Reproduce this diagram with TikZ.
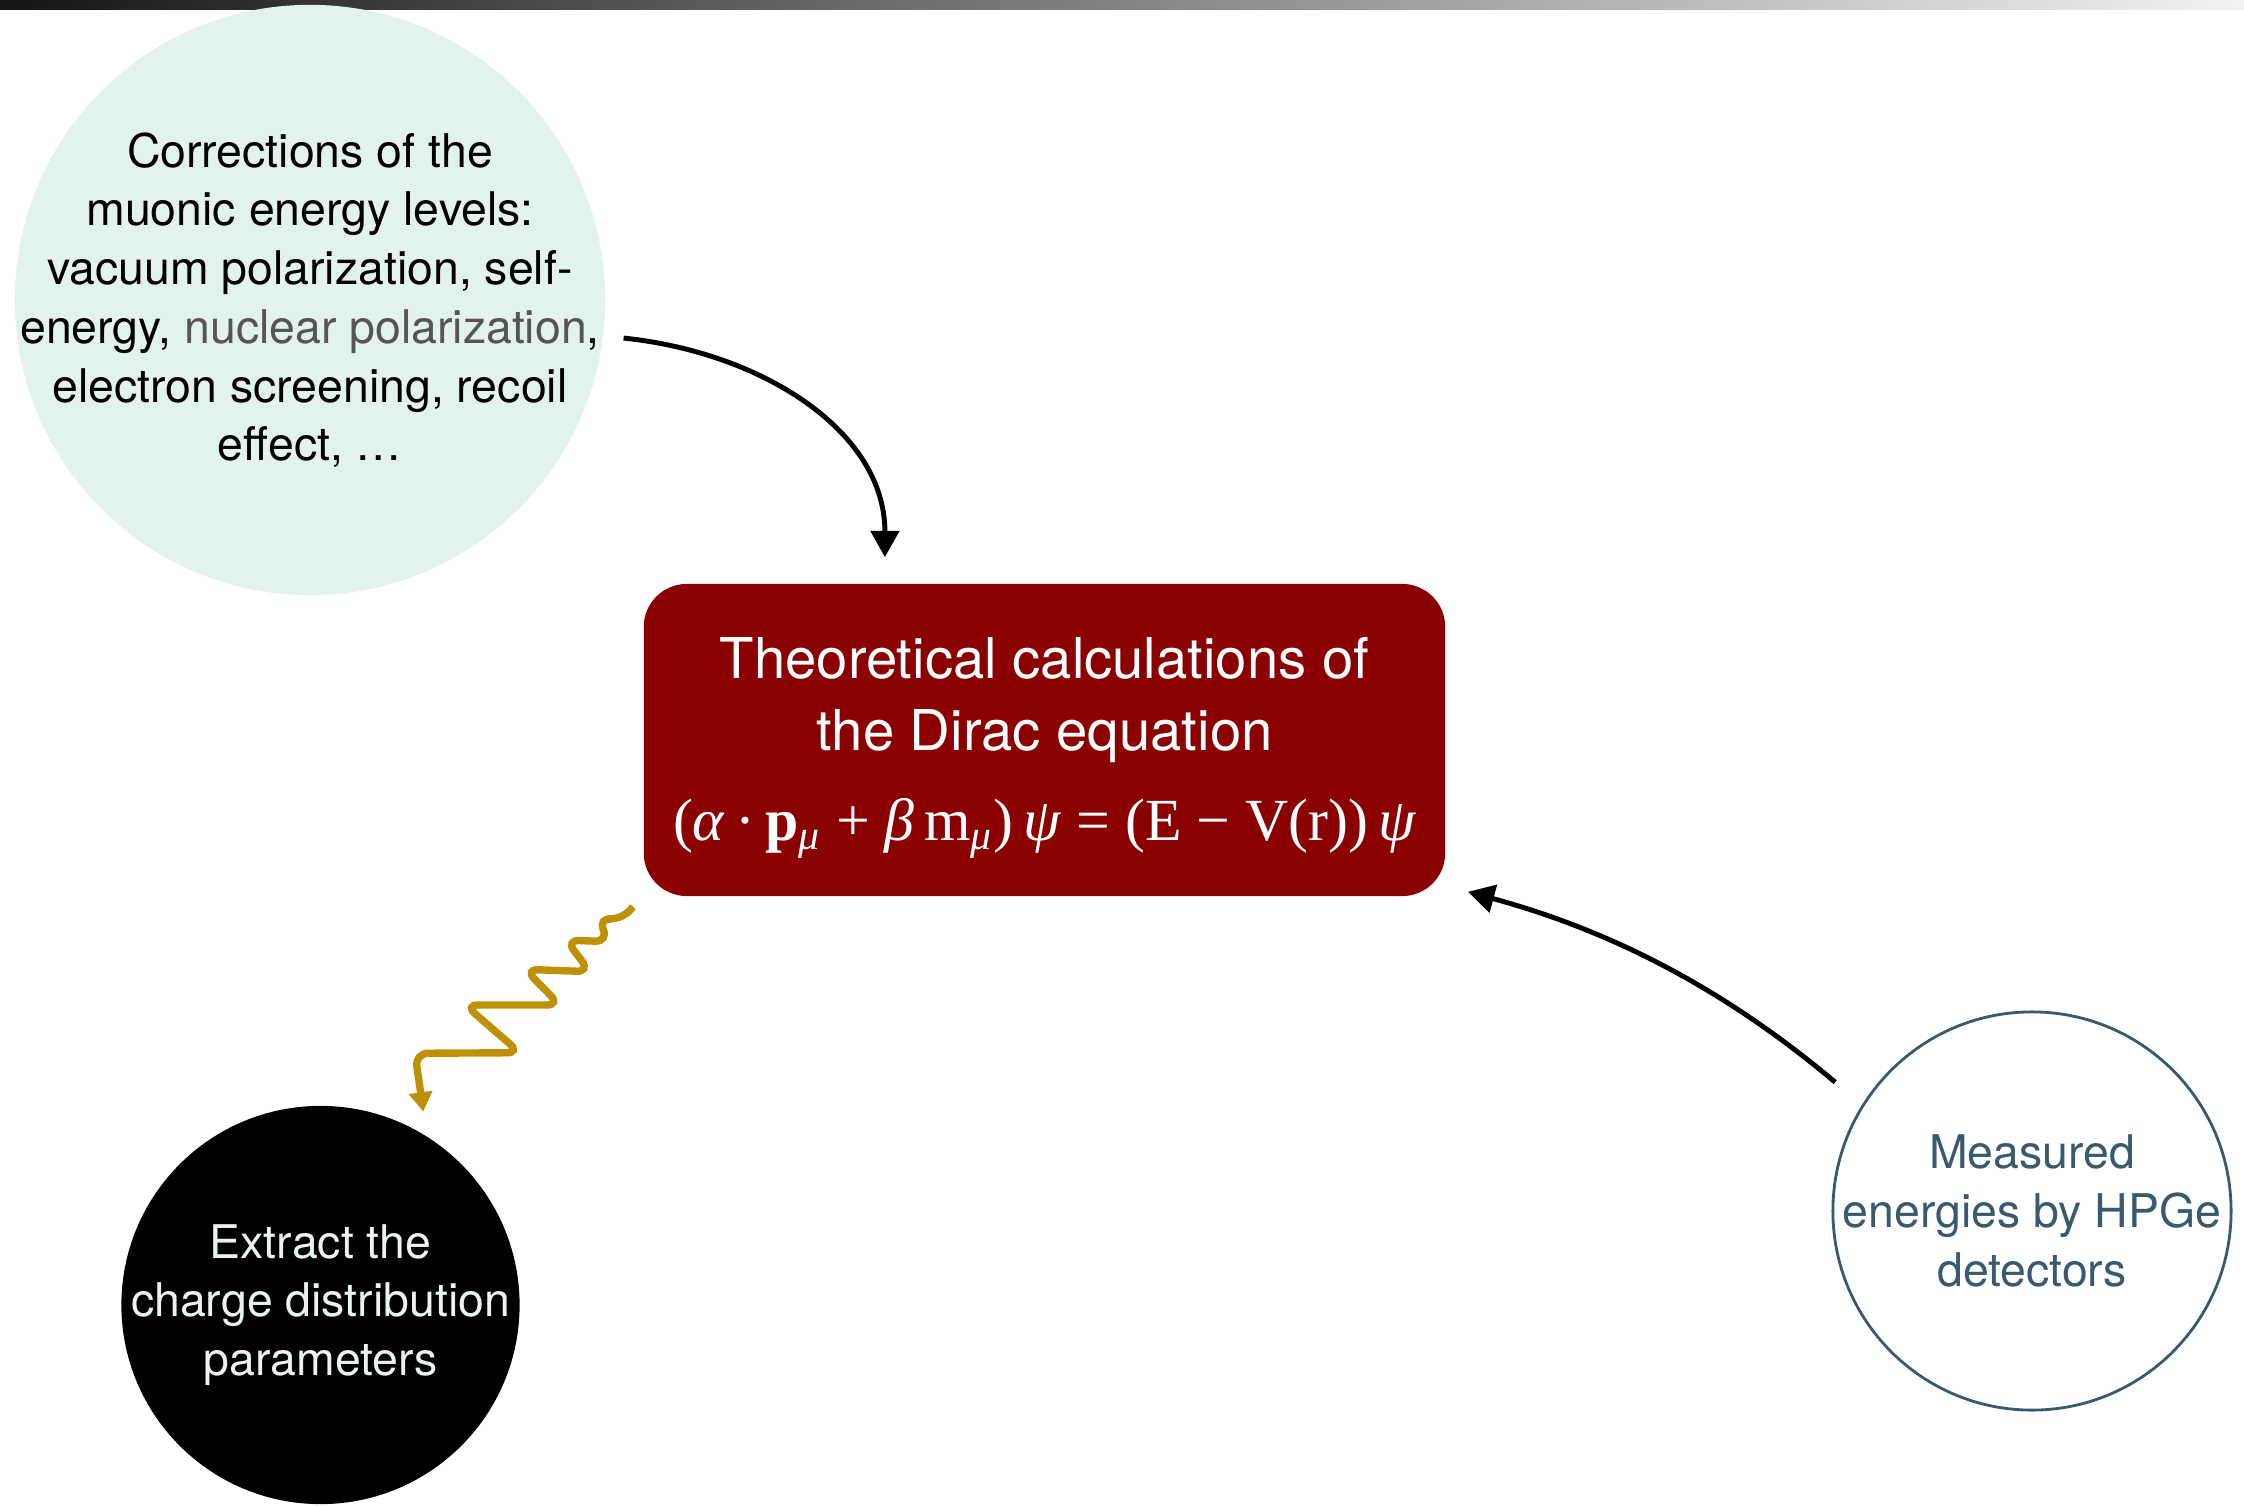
\documentclass[tikz,border=0pt]{standalone}
\usepackage{fontspec}
\setmainfont{TeX Gyre Heros}
\newfontfamily\eqfont{Liberation Serif}
\usetikzlibrary{arrows.meta,calc}
\definecolor{mint}{RGB}{225,243,235}
\definecolor{darkred}{RGB}{139,0,0}
\definecolor{slate}{RGB}{55,90,110}
\definecolor{gold}{RGB}{190,145,5}
\definecolor{midgray}{RGB}{85,85,85}
\definecolor{palemint}{RGB}{232,245,238}
\begin{document}
\begin{tikzpicture}[x=0.01cm,y=-0.01cm,
  disc/.style={circle,inner sep=0pt},
  txt/.style={align=center,inner sep=0pt,font=\fontsize{13.2}{16.7}\selectfont},
  arr/.style={line width=1.4pt,-{Triangle[length=7.5pt,width=8pt]}},
  wavy/.style={line width=2.1pt,color=gold,rounded corners=0.13cm,-{Triangle[length=5.5pt,width=6.5pt]}}]
\useasboundingbox (0,0) rectangle (2244,1506);
\shade[left color=black!92,right color=black!5] (0,0) rectangle (2244,9);
\node[disc,fill=mint,minimum size=5.9cm] (corr) at (310,300) {};
\node[txt] (corrtxt) at (corr.center)
  {Corrections of the\\muonic energy levels:\\vacuum polarization, self-\\energy, \textcolor{midgray}{nuclear polarization},\\electron screening, recoil\\effect, \dots};
\node[rectangle,rounded corners=0.43cm,fill=darkred,minimum width=8.01cm,minimum height=3.12cm] (theo) at (1044.5,740) {};
\node[align=center,text=white,inner sep=0pt,font=\fontsize{16}{20.5}\selectfont] (theotxt) at (1044.5,748)
  {Theoretical calculations of\\the Dirac equation\\[5pt]
   {\eqfont\fontsize{17}{20}\selectfont (\textit{α}\,·\,\textbf{p}\textsubscript{\textit{μ}} + \textit{β}\,m\textsubscript{\textit{μ}})\,\textit{ψ} = (E − V(r))\,\textit{ψ}}};
\node[disc,fill=black,minimum size=3.98cm] (extr) at (320.5,1305) {};
\node[txt,text=palemint] (extrtxt) at (extr.center)
  {Extract the\\charge distribution\\parameters};
\node[disc,draw=slate,line width=0.8pt,minimum size=3.98cm] (meas) at (2032,1211) {};
\node[txt,text=slate] (meastxt) at (meas.center)
  {Measured\\energies by HPGe\\detectors};
\draw[arr,shorten <=0.2cm] (corr.-7) .. controls (760,352) and (885,430) .. ([xshift=-1.595cm,yshift=0.26cm]theo.north);
\draw[arr,shorten <=0.35cm] (meas.148) .. controls (1708,975) and (1590,925) .. ([shift={(22,-5)}]theo.south east);
\draw[wavy] ([shift={(-10,10)}]theo.south west) -- (620,920.7) -- (598.3,917.3) -- (608.3,941.7) -- (566,940) -- (590,971.7) -- (525,969.3) -- (560,1005) -- (465,1005) -- (520,1052.7) -- (415,1053.3) -- ([shift={(9,-17)}]extr.62);
\end{tikzpicture}
\end{document}
